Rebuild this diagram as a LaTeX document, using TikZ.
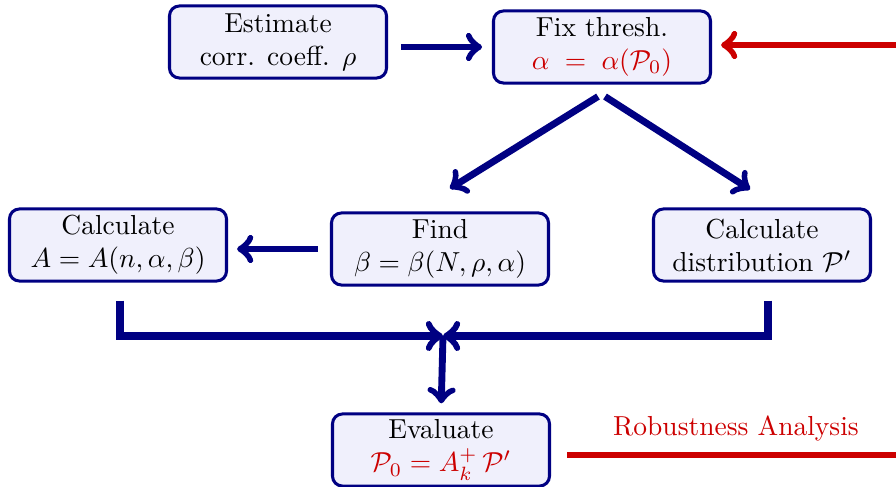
\documentclass[tikz,border=0pt]{standalone}
\usetikzlibrary{calc}
\definecolor{navy}{RGB}{0,0,130}
\definecolor{boxfill}{RGB}{240,240,252}
\definecolor{myred}{RGB}{204,0,0}
\tikzset{
  box/.style={draw=navy, fill=boxfill, line width=1.1pt, rounded corners=3.6pt,
    minimum width=78.9pt, minimum height=26.2pt, align=center, inner sep=1pt},
  arr/.style={->, draw=navy, line width=2.5pt},
  redarr/.style={->, draw=myred, line width=2.5pt},
  redline/.style={draw=myred, line width=2.5pt},
}
\begin{document}
\begin{tikzpicture}[x=0.3636pt, y=-0.3636pt]
\useasboundingbox (0,0) rectangle (896,487);
\node[box] (est) at (278,42) {Estimate\\corr. coeff. $\rho$};
\node[box] (fix) at (602,47) {Fix thresh.\\\textcolor{myred}{$\alpha\;=\;\alpha(\mathcal{P}_0)$}};
\node[box] (calcA) at (118,245) {Calculate\\$A=A(n,\alpha,\beta)$};
\node[box] (find) at (440,249) {Find\\$\beta=\beta(N,\rho,\alpha)$};
\node[box] (dist) at (762,245) {Calculate\\distribution $\mathcal{P}'$};
\node[box] (eval) at (441,450) {Evaluate\\\textcolor{myred}{$\mathcal{P}_0 = A_k^+\,\mathcal{P}'$}};
\node[text=myred] (rob) at (736,428) {Robustness Analysis};
\coordinate (j) at (443,336);
\coordinate (r1) at (896,45);
\coordinate (r2) at (896,455);
\draw[arr, shorten <=4.7pt, shorten >=3.6pt] (est.east |- fix.west) -- (fix.west);
\draw[redarr, shorten >=3.3pt] (r1) -- (fix.east |- r1);
\draw[arr, shorten <=4.4pt, shorten >=3.3pt] (find.west) -- (calcA.east |- find.west);
\draw[arr] ($(fix.south)+(-4,12)$) -- ($(find.north)+(10,-23)$);
\draw[arr] ($(fix.south)+(3,12)$) -- ($(dist.north)+(-12,-18)$);
\draw[arr, line width=2.7pt] ($(calcA.south)+(2,18)$) |- (j);
\draw[arr, line width=2.7pt] ($(dist.south)+(6,18)$) |- (j);
\draw[arr, shorten >=3.3pt] (j) -- (eval.north);
\draw[redline] ($(eval.east)+(16,5)$) -- (r2);
\end{tikzpicture}
\end{document}
